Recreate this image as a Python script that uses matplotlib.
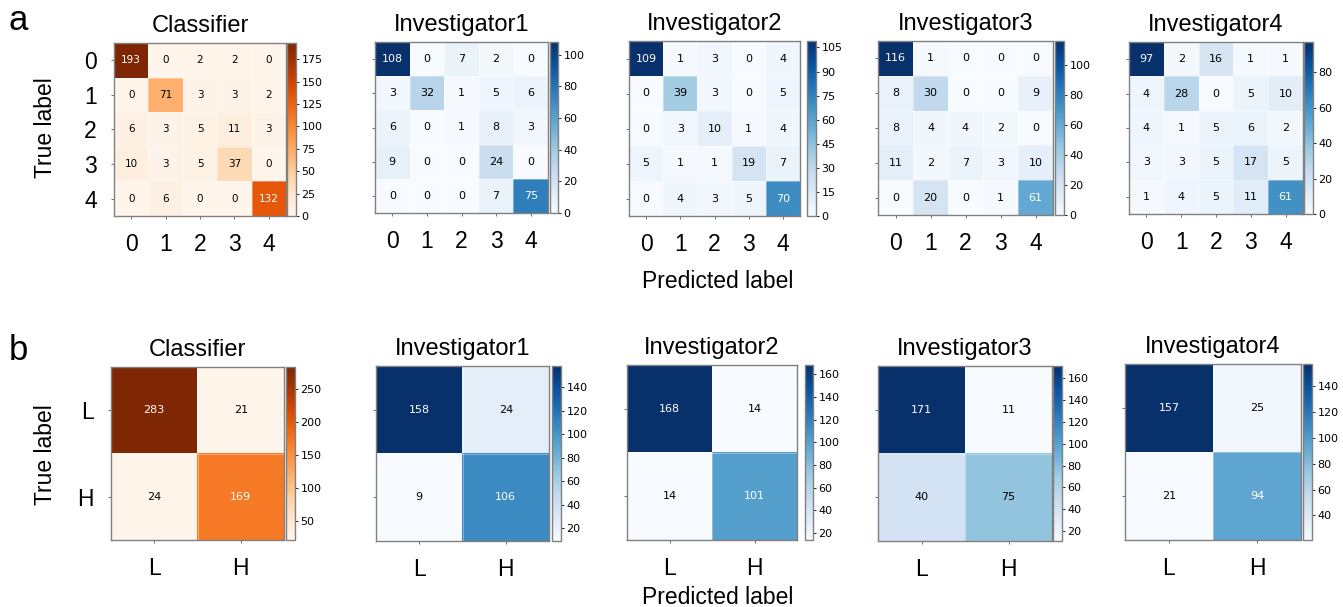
import numpy as np
import matplotlib
matplotlib.use("Agg")
import matplotlib.pyplot as plt
from matplotlib.ticker import MultipleLocator

# confusion matrices, rows = true label, cols = predicted label
panel_titles = ["Classifier", "Investigator1", "Investigator2", "Investigator3", "Investigator4"]

five_labels = ["0", "1", "2", "3", "4"]
cls5 = [[193, 0, 2, 2, 0],
        [0, 71, 3, 3, 2],
        [6, 3, 5, 11, 3],
        [10, 3, 5, 37, 0],
        [0, 6, 0, 0, 132]]
inv1_5 = [[108, 0, 7, 2, 0],
          [3, 32, 1, 5, 6],
          [6, 0, 1, 8, 3],
          [9, 0, 0, 24, 0],
          [0, 0, 0, 7, 75]]
inv2_5 = [[109, 1, 3, 0, 4],
          [0, 39, 3, 0, 5],
          [0, 3, 10, 1, 4],
          [5, 1, 1, 19, 7],
          [0, 4, 3, 5, 70]]
inv3_5 = [[116, 1, 0, 0, 0],
          [8, 30, 0, 0, 9],
          [8, 4, 4, 2, 0],
          [11, 2, 7, 3, 10],
          [0, 20, 0, 1, 61]]
inv4_5 = [[97, 2, 16, 1, 1],
          [4, 28, 0, 5, 10],
          [4, 1, 5, 6, 2],
          [3, 3, 5, 17, 5],
          [1, 4, 5, 11, 61]]

two_labels = ["L", "H"]
cls2 = [[283, 21], [24, 169]]
inv1_2 = [[158, 24], [9, 106]]
inv2_2 = [[168, 14], [14, 101]]
inv3_2 = [[171, 11], [40, 75]]
inv4_2 = [[157, 25], [21, 94]]

row_a = [cls5, inv1_5, inv2_5, inv3_5, inv4_5]
row_b = [cls2, inv1_2, inv2_2, inv3_2, inv4_2]

W, H = 1343, 607
fig = plt.figure(figsize=(W / 100, H / 100), dpi=100)

LABEL_FONT = "Liberation Sans"
SMALL_FONT = "DejaVu Sans"


def px_box(x0, y0, x1, y1):
    # pixel box (top-left origin) -> figure fraction rect
    return [x0 / W, 1 - y1 / H, (x1 - x0) / W, (y1 - y0) / H]


def draw_cm(cm, labels, title, hm_box, cb_box, cmap, cb_step, show_ylabels, fs_cell):
    cm = np.array(cm)
    ax = fig.add_axes(px_box(*hm_box))
    cax = fig.add_axes(px_box(*cb_box))
    n = len(labels)
    im = ax.imshow(cm, cmap=cmap, interpolation="nearest", aspect="auto",
                   vmin=cm.min(), vmax=cm.max())
    thresh = (cm.max() + cm.min()) / 2.0
    for i in range(n):
        for j in range(n):
            ax.text(j, i, str(cm[i, j]), ha="center", va="center",
                    fontsize=fs_cell, family=SMALL_FONT,
                    color="white" if cm[i, j] > thresh else "black")
    # faint cell borders
    ax.set_xticks(np.arange(-0.5, n, 1), minor=True)
    ax.set_yticks(np.arange(-0.5, n, 1), minor=True)
    ax.grid(which="minor", color="white", linewidth=0.7, alpha=0.35)
    ax.tick_params(which="minor", length=0)

    ax.set_xticks(range(n))
    ax.set_xticklabels(labels, fontsize=16.5, family=LABEL_FONT)
    ax.set_yticks(range(n))
    if show_ylabels:
        ax.set_yticklabels(labels, fontsize=16.5, family=LABEL_FONT)
    else:
        ax.set_yticklabels([])
    ax.tick_params(which="major", length=2.5, width=0.6, color="#555555", pad=10)
    for s in ax.spines.values():
        s.set_color("#808080")
        s.set_linewidth(1.0)
    ax.set_title(title, fontsize=17, family=LABEL_FONT, pad=8)

    cb = fig.colorbar(im, cax=cax)
    cb.locator = MultipleLocator(cb_step)
    cb.update_ticks()
    cb.outline.set_edgecolor("#808080")
    cb.outline.set_linewidth(1.0)
    cax.tick_params(labelsize=8, length=2.5, width=0.6, pad=1.5)
    for t in cax.get_yticklabels():
        t.set_family(SMALL_FONT)
    return ax


# row a: 5-class
a_hm = [(114, 43, 286, 216), (375, 42, 548, 213), (629, 41, 800, 216),
        (878, 41, 1053, 215), (1129, 42, 1303, 214)]
a_cb = [(287, 43, 296, 216), (550, 42, 558, 213), (807, 41, 816, 216),
        (1055, 41, 1064, 215), (1304, 42, 1313, 214)]
a_steps = [25, 20, 15, 20, 20]

# row b: low/high
b_hm = [(111, 367, 284, 540), (376, 366, 549, 541), (627, 365, 797, 540),
        (878, 366, 1052, 541), (1125, 364, 1301, 540)]
b_cb = [(286, 367, 295, 540), (552, 366, 561, 541), (805, 365, 813, 540),
        (1053, 366, 1062, 541), (1303, 364, 1312, 540)]
b_steps = [50, 20, 20, 20, 20]

for k in range(5):
    cmap = "Oranges" if k == 0 else "Blues"
    fs = 7.5 if k == 0 else 8
    draw_cm(row_a[k], five_labels, panel_titles[k], a_hm[k], a_cb[k], cmap,
            a_steps[k], k == 0, fs)
    draw_cm(row_b[k], two_labels, panel_titles[k], b_hm[k], b_cb[k], cmap,
            b_steps[k], k == 0, 8)

# shared axis labels and panel letters
for yc in (128, 455):
    fig.text(45 / W, 1 - yc / H, "True label", rotation=90, ha="center", va="center",
             fontsize=16.5, family=LABEL_FONT)
for yc in (281, 597):
    fig.text(718 / W, 1 - yc / H, "Predicted label", ha="center", va="center",
             fontsize=16.5, family=LABEL_FONT)
fig.text(18 / W, 1 - 20 / H, "a", ha="center", va="center", fontsize=25, family=LABEL_FONT)
fig.text(18 / W, 1 - 350 / H, "b", ha="center", va="center", fontsize=25, family=LABEL_FONT)

fig.savefig("out.png", dpi=100)
